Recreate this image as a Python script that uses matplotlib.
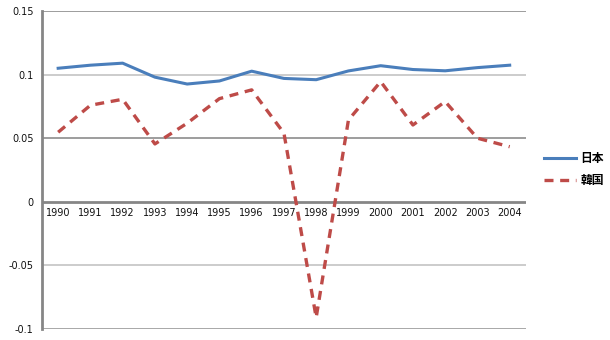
import matplotlib
matplotlib.use("Agg")
import matplotlib.pyplot as plt

years = ["1990", "1991", "1992", "1993", "1994", "1995", "1996", "1997",
         "1998", "1999", "2000", "2001", "2002", "2003", "2004"]
japan = [0.105, 0.1074, 0.109, 0.098, 0.0926, 0.095, 0.1027, 0.097,
         0.096, 0.1029, 0.107, 0.104, 0.103, 0.1055, 0.1074]
korea = [0.0547, 0.0759, 0.0806, 0.0455, 0.0618, 0.0811, 0.088, 0.054,
         -0.091, 0.0643, 0.0945, 0.0604, 0.0788, 0.05, 0.0433]
yticks = [-0.1, -0.05, 0, 0.05, 0.1, 0.15]
ytick_labels = ["-0.1", "-0.05", "0", "0.05", "0.1", "0.15"]
series_names = ["日本", "韓国"]

BLUE = "#4a7ebb"
RED = "#be4b48"
DASH = (0, (2.7, 2.0))

plt.rcParams['font.family'] = ['DejaVu Sans']

fig = plt.figure(figsize=(6.1, 3.4), dpi=100)
ax = fig.add_axes([0.0689, 0.0324, 0.862 - 0.0689, 0.9676 - 0.0324])

xs = list(range(len(years)))
ax.plot(xs, japan, color=BLUE, lw=2.2, zorder=3, solid_joinstyle="round")
ax.plot(xs, korea, color=RED, lw=2.4, linestyle=DASH, zorder=3)

ax.set_xlim(-0.5, len(years) - 0.5)
ax.set_ylim(-0.1, 0.15)
ax.set_yticks(yticks)
ax.set_yticklabels(ytick_labels)
ax.tick_params(axis="y", length=0, labelsize=7, pad=6, labelcolor="#111111")
ax.set_xticks([])
grid_colors = {-0.1: "#9a9a9a", -0.05: "#c4c4c4", 0.05: "#8c8c8c",
               0.1: "#c4c4c4", 0.15: "#8c8c8c"}
for y in yticks:
    if y == 0:
        continue
    ax.axhline(y, color=grid_colors[y], lw=1.2, zorder=1)
ax.axhline(0, color="#868686", lw=2, zorder=2)

for sp in ["top", "right", "bottom"]:
    ax.spines[sp].set_visible(False)
ax.spines["left"].set_color("#868686")
ax.spines["left"].set_linewidth(2)

for i, lab in enumerate(years):
    ax.text(i, -0.0045, lab, ha="center", va="top", fontsize=7,
            color="#111111")

handles = [plt.Line2D([], [], color=BLUE, lw=2.2),
           plt.Line2D([], [], color=RED, lw=2.4, linestyle=DASH)]
fig.legend(handles, series_names, loc="center left",
           bbox_to_anchor=(0.875, 0.502), frameon=False,
           prop={"family": ["Noto Sans CJK JP", "DejaVu Sans"], "size": 8.5,
                 "weight": "bold"},
           handlelength=2.7, handletextpad=0.35, labelspacing=0.75)

fig.savefig("out.png", dpi=100)
